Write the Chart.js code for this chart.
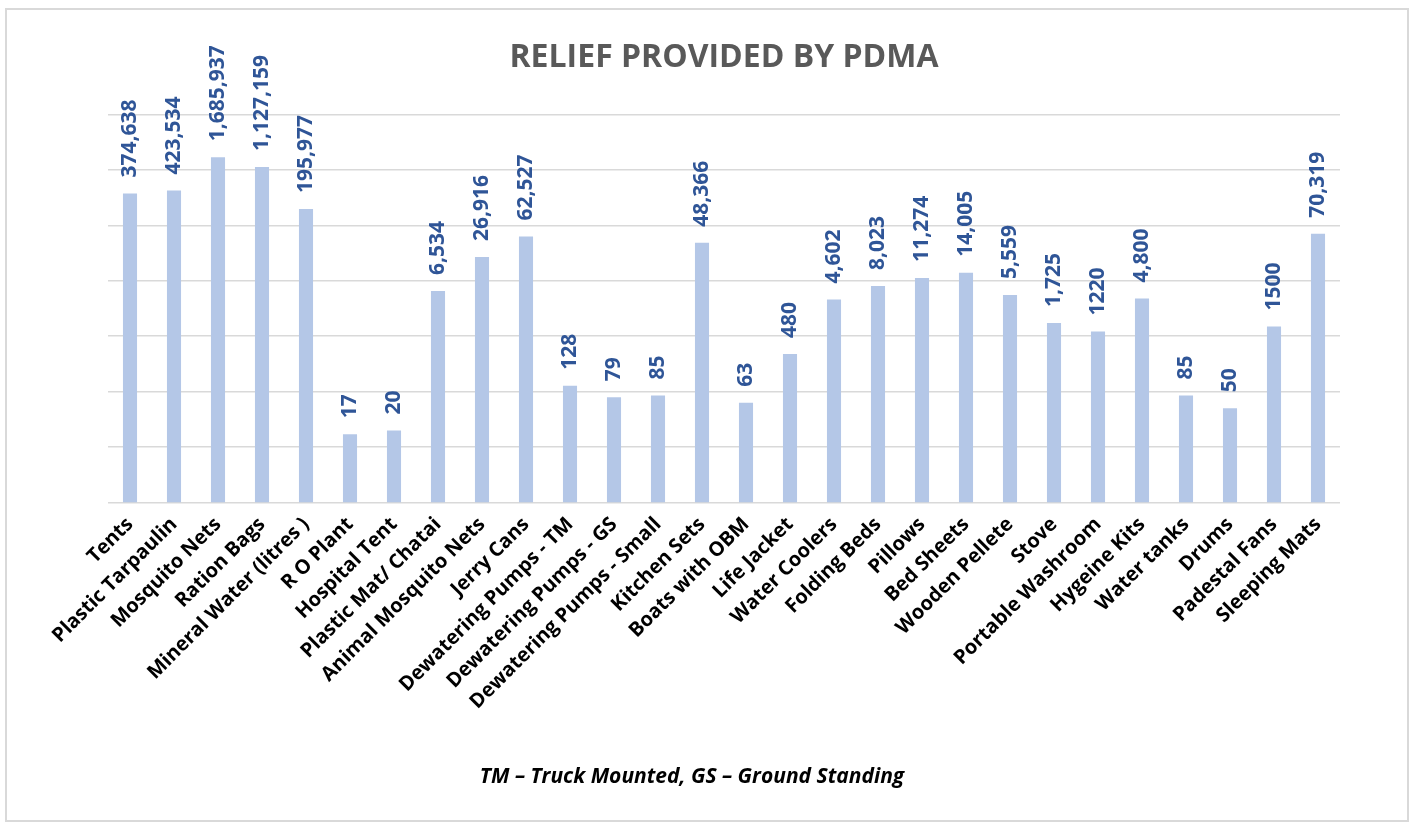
<!DOCTYPE html>
<html lang="en">
<head>
    <meta charset="UTF-8">
    <title>Relief provided by PDMA</title>
    <style>
        body { margin: 0; background: #fff; }
        #frame { position: absolute; left: 5px; top: 8px; width: 1400px; height: 810px; border: 2px solid #d9d9d9; }
        #wrap { position: absolute; left: 0; top: 0; width: 1413px; height: 827px; }
    </style>
</head>
<body>
    <div id="frame"></div>
    <div id="wrap"><canvas id="reliefChart" width="1413" height="827"></canvas></div>
    <script src="https://cdnjs.cloudflare.com/ajax/libs/Chart.js/4.4.0/chart.umd.js"></script>
<script>
var items = ["Tents", "Plastic Tarpaulin", "Mosquito Nets", "Ration Bags", "Mineral Water (litres )",
    "R O Plant", "Hospital Tent", "Plastic Mat/ Chatai", "Animal Mosquito Nets", "Jerry Cans",
    "Dewatering Pumps - TM", "Dewatering Pumps - GS", "Dewatering Pumps - Small", "Kitchen Sets",
    "Boats with OBM", "Life Jacket", "Water Coolers", "Folding Beds", "Pillows", "Bed Sheets",
    "Wooden Pellete", "Stove", "Portable Washroom", "Hygeine Kits", "Water tanks", "Drums",
    "Padestal Fans", "Sleeping Mats"];
var quantities = [374638, 423534, 1685937, 1127159, 195977, 17, 20, 6534, 26916, 62527,
    128, 79, 85, 48366, 63, 480, 4602, 8023, 11274, 14005, 5559, 1725, 1220, 4800, 85, 50,
    1500, 70319];
// labels as printed on the chart (two of them have no thousands separator)
var valueLabels = ["374,638", "423,534", "1,685,937", "1,127,159", "195,977", "17", "20", "6,534",
    "26,916", "62,527", "128", "79", "85", "48,366", "63", "480", "4,602", "8,023", "11,274",
    "14,005", "5,559", "1,725", "1220", "4,800", "85", "50", "1500", "70,319"];
var footNote = 'TM \u2013 Truck Mounted, GS \u2013 Ground Standing';

var barLabels = {
  id: 'barLabels',
  afterDatasetsDraw: function(chart) {
    var ctx = chart.ctx;
    var meta = chart.getDatasetMeta(0);
    ctx.save();
    ctx.fillStyle = '#2f5597';
    ctx.font = 'bold 21px "Open Sans"';
    ctx.textAlign = 'left';
    ctx.textBaseline = 'middle';
    meta.data.forEach(function(bar, i) {
      ctx.save();
      ctx.translate(bar.x, bar.y - 16);
      ctx.rotate(-Math.PI / 2);
      ctx.fillText(valueLabels[i], 0, 0);
      ctx.restore();
    });
    ctx.restore();
  }
};

// footnote sits a little left of centre, so draw it by hand
var footer = {
  id: 'footer',
  afterDraw: function(chart) {
    var ctx = chart.ctx;
    ctx.save();
    ctx.fillStyle = '#000';
    ctx.font = 'italic bold 21px "Open Sans"';
    ctx.textAlign = 'center';
    ctx.textBaseline = 'middle';
    ctx.fillText(footNote, 692, 777);
    ctx.restore();
  }
};

var ctx = document.getElementById('reliefChart').getContext('2d');
new Chart(ctx, {
  type: 'bar',
  data: {
    labels: items,
    datasets: [{
      data: quantities,
      backgroundColor: '#b4c7e7',
      barPercentage: 0.32,
      categoryPercentage: 1
    }]
  },
  options: {
    responsive: false,
    animation: false,
    layout: { padding: { left: 108, right: 73, top: 0, bottom: 111 } },
    plugins: {
      legend: { display: false },
      tooltip: { enabled: false },
      title: {
        display: true,
        text: 'RELIEF PROVIDED BY PDMA',
        color: '#595959',
        font: { family: '"Open Sans"', size: 32, weight: 'bold' },
        padding: { top: 39, bottom: 37 }
      }
    },
    scales: {
      x: {
        grid: { display: false },
        border: { display: false },
        ticks: {
          color: '#000',
          font: { family: '"Open Sans"', size: 20, weight: 'bold' },
          maxRotation: 45,
          minRotation: 45,
          autoSkip: false,
          padding: 2
        }
      },
      y: {
        type: 'logarithmic',
        min: 1,
        max: 10000000,
        afterBuildTicks: function(axis) {
          axis.ticks = axis.ticks.filter(function(t) {
            var l = Math.log10(t.value);
            return Math.abs(l - Math.round(l)) < 1e-9;
          });
        },
        afterFit: function(axis) { axis.width = 0; },
        ticks: { display: false },
        border: { display: false },
        grid: { color: '#d9d9d9', lineWidth: 1.5, drawTicks: false }
      }
    }
  },
  plugins: [barLabels, footer]
});
</script>
</body>
</html>
